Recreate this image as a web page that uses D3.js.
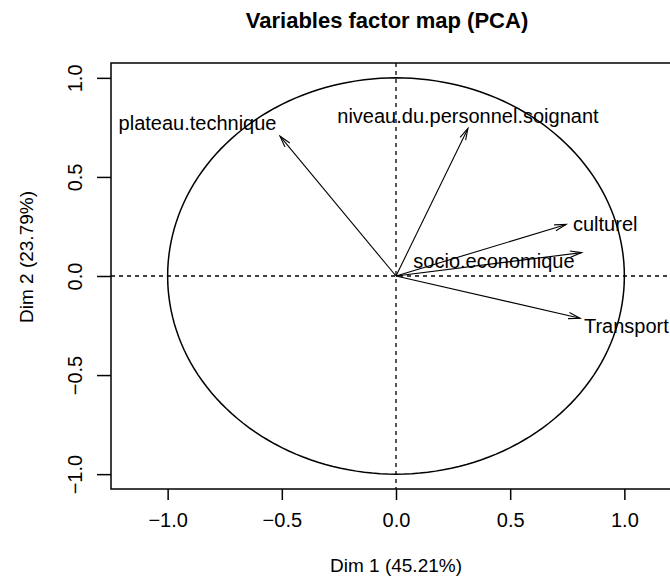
<!DOCTYPE html>
<html>
<head>
<meta charset="utf-8">
<script src="https://cdn.jsdelivr.net/npm/d3@7"></script>
<style>
  html, body { margin: 0; padding: 0; background: #fff; }
  svg { display: block; font-family: "Liberation Sans", Arial, sans-serif; }
</style>
</head>
<body>
<svg id="chart" width="670" height="578"></svg>
<script>
// ---- data ----
const variables = ["plateau.technique", "niveau.du.personnel.soignant", "culturel", "socio.economique", "Transport"];
const dim1 = [-0.508, 0.315, 0.745, 0.813, 0.806];
const dim2 = [0.706, 0.745, 0.260, 0.118, -0.213];
// label positions (data units) and anchor
const labelX = [-0.869, 0.315, 0.775, 0.429, 0.823];
const labelY = [0.770, 0.805, 0.260, 0.076, -0.252];
const labelAnchor = ["middle", "middle", "start", "middle", "start"];
const xTicks = [-1.0, -0.5, 0.0, 0.5, 1.0];
const yTicks = [-1.0, -0.5, 0.0, 0.5, 1.0];
const title = "Variables factor map (PCA)";
const xTitle = "Dim 1 (45.21%)";
const yTitle = "Dim 2 (23.79%)";

const svg = d3.select("#chart");
const L = 111, R = 681, T = 63, B = 489;
const x = d3.scaleLinear().domain([-1.248, 1.248]).range([L, R]);
const y = d3.scaleLinear().domain([-1.075, 1.075]).range([B, T]);

const fmt = d => d.toFixed(1).replace("-", "\u2212");

// title
svg.append("text").attr("x", 387).attr("y", 28).attr("text-anchor", "middle")
  .attr("font-size", 22).attr("font-weight", "bold").attr("fill", "#000").text(title);

// box
svg.append("rect").attr("x", L).attr("y", T).attr("width", R - L).attr("height", B - T)
  .attr("fill", "none").attr("stroke", "#000").attr("stroke-width", 1.5);

// x axis
const xAxis = d3.axisBottom(x).tickValues(xTicks).tickFormat(fmt).tickSize(11).tickPadding(13);
const gx = svg.append("g").attr("transform", `translate(0,${B})`).call(xAxis);
gx.select(".domain").remove();
gx.selectAll("line").attr("stroke", "#000").attr("stroke-width", 1.5);
gx.selectAll("text").attr("font-size", 20).attr("font-family", "Liberation Sans, Arial, sans-serif").attr("fill", "#000");

// y axis
const yAxis = d3.axisLeft(y).tickValues(yTicks).tickFormat(fmt).tickSize(14).tickPadding(0);
const gy = svg.append("g").attr("transform", `translate(${L},0)`).call(yAxis);
gy.select(".domain").remove();
gy.selectAll("line").attr("stroke", "#000").attr("stroke-width", 1.5);
gy.selectAll("text").attr("font-size", 20).attr("font-family", "Liberation Sans, Arial, sans-serif").attr("fill", "#000")
  .attr("text-anchor", "middle").attr("dy", null)
  .attr("transform", d => `translate(${82 - L},0) rotate(-90)`).attr("x", 0).attr("y", 0);

// axis titles
svg.append("text").attr("x", x(0)).attr("y", 572).attr("text-anchor", "middle")
  .attr("font-size", 19).attr("fill", "#000").text(xTitle);
svg.append("text").attr("transform", `translate(33,257) rotate(-90)`).attr("text-anchor", "middle")
  .attr("font-size", 19).attr("fill", "#000").text(yTitle);

// clip for plot region
svg.append("clipPath").attr("id", "clip").append("rect")
  .attr("x", L).attr("y", T).attr("width", R - L).attr("height", B - T);
const plot = svg.append("g").attr("clip-path", "url(#clip)");

// dashed axes
plot.append("line").attr("x1", x(0)).attr("x2", x(0)).attr("y1", T).attr("y2", B)
  .attr("stroke", "#000").attr("stroke-width", 1.3).attr("stroke-dasharray", "4,4");
plot.append("line").attr("x1", L).attr("x2", R).attr("y1", y(0)).attr("y2", y(0))
  .attr("stroke", "#000").attr("stroke-width", 1.3).attr("stroke-dasharray", "4,4");

// unit circle
const circ = d3.range(0, 361, 2).map(a => [Math.cos(a * Math.PI / 180), Math.sin(a * Math.PI / 180)]);
plot.append("path").datum(circ)
  .attr("d", d3.line().x(d => x(d[0])).y(d => y(d[1])))
  .attr("fill", "none").attr("stroke", "#000").attr("stroke-width", 1.5);

// arrows
const headLen = 12, headAng = 15 * Math.PI / 180;
variables.forEach((v, i) => {
  const x0 = x(0), y0 = y(0), x1 = x(dim1[i]), y1 = y(dim2[i]);
  plot.append("line").attr("x1", x0).attr("y1", y0).attr("x2", x1).attr("y2", y1)
    .attr("stroke", "#000").attr("stroke-width", 1.1);
  const ang = Math.atan2(y1 - y0, x1 - x0);
  const p = [
    [x1 - headLen * Math.cos(ang - headAng), y1 - headLen * Math.sin(ang - headAng)],
    [x1, y1],
    [x1 - headLen * Math.cos(ang + headAng), y1 - headLen * Math.sin(ang + headAng)]
  ];
  plot.append("path").attr("d", d3.line()(p)).attr("fill", "none")
    .attr("stroke", "#000").attr("stroke-width", 1.1);
  plot.append("text").attr("x", x(labelX[i])).attr("y", y(labelY[i]))
    .attr("dy", "0.35em").attr("text-anchor", labelAnchor[i])
    .attr("font-size", 20).attr("fill", "#000").text(v);
});
</script>
</body>
</html>
